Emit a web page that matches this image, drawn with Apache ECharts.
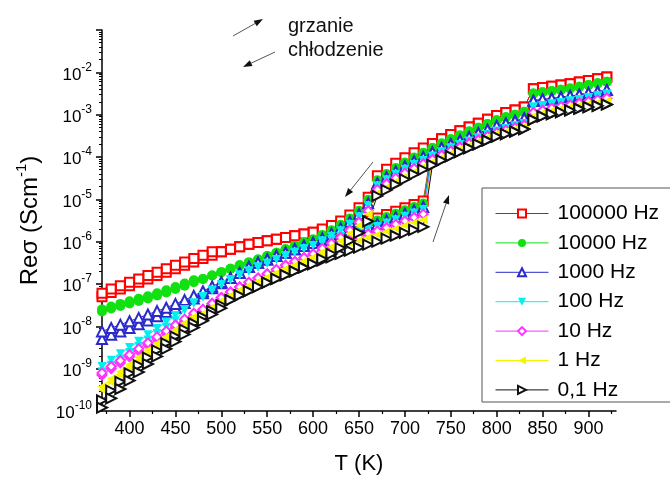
<!DOCTYPE html>
<html><head><meta charset="utf-8">
<script src="https://cdn.jsdelivr.net/npm/echarts@6/dist/echarts.min.js"></script>
<style>html,body{margin:0;padding:0;background:#fff}#c{width:670px;height:480px}</style>
</head><body><div id="c"></div><script>
// Temperature grid (K)
const T = [370,380,390,400,410,420,430,440,450,460,470,480,490,500,510,520,530,540,550,560,570,580,590,600,610,620,630,640,650,660,670,680,690,700,710,720,730,740,750,760,770,780,790,800,810,820,830,840,850,860,870,880,890,900,910,920];

// log10(Re sigma / S cm^-1); heating and cooling runs
const lg100kHeat = [-7.30,-7.20,-7.12,-7.04,-6.96,-6.88,-6.80,-6.72,-6.64,-6.56,-6.48,-6.40,-6.32,-6.24,-6.18,-6.12,-6.06,-6.02,-5.98,-5.94,-5.90,-5.86,-5.82,-5.78,-5.74,-5.70,-5.65,-5.60,-5.55,-5.50,-5.44,-5.36,-5.28,-5.20,-5.12,-5.04,-3.68,-3.57,-3.47,-3.38,-3.29,-3.20,-3.11,-3.02,-2.95,-2.89,-2.82,-2.39,-2.36,-2.33,-2.30,-2.27,-2.23,-2.19,-2.15,-2.11];
const lg100kCool = [-7.22,-7.12,-7.04,-6.96,-6.88,-6.80,-6.72,-6.64,-6.56,-6.48,-6.40,-6.32,-6.24,-6.24,-6.18,-6.12,-6.06,-6.02,-5.98,-5.94,-5.90,-5.86,-5.82,-5.78,-5.70,-5.62,-5.51,-5.37,-5.20,-4.95,-4.44,-4.29,-4.15,-4.02,-3.90,-3.79,-3.68,-3.57,-3.47,-3.38,-3.29,-3.20,-3.11,-3.02,-2.95,-2.89,-2.82,-2.39,-2.36,-2.33,-2.30,-2.27,-2.23,-2.19,-2.15,-2.11];

const lg10kHeat = [-7.65,-7.58,-7.52,-7.46,-7.40,-7.34,-7.27,-7.20,-7.12,-7.04,-6.96,-6.88,-6.80,-6.72,-6.64,-6.56,-6.49,-6.42,-6.34,-6.26,-6.18,-6.10,-6.02,-5.95,-5.88,-5.81,-5.74,-5.68,-5.62,-5.56,-5.50,-5.42,-5.34,-5.26,-5.18,-5.10,-3.79,-3.68,-3.58,-3.49,-3.40,-3.31,-3.22,-3.13,-3.06,-3.00,-2.93,-2.50,-2.47,-2.44,-2.41,-2.38,-2.34,-2.30,-2.26,-2.22];
const lg10kCool = [-7.60,-7.53,-7.47,-7.41,-7.35,-7.29,-7.22,-7.15,-7.07,-6.99,-6.91,-6.88,-6.80,-6.72,-6.64,-6.56,-6.49,-6.42,-6.34,-6.26,-6.18,-6.10,-6.02,-5.95,-5.84,-5.73,-5.60,-5.45,-5.27,-5.01,-4.55,-4.40,-4.26,-4.13,-4.01,-3.90,-3.79,-3.68,-3.58,-3.49,-3.40,-3.31,-3.22,-3.13,-3.06,-3.00,-2.93,-2.50,-2.47,-2.44,-2.41,-2.38,-2.34,-2.30,-2.26,-2.22];

const lg1kHeat = [-8.30,-8.20,-8.12,-8.04,-7.95,-7.86,-7.76,-7.66,-7.56,-7.45,-7.34,-7.22,-7.10,-6.98,-6.86,-6.74,-6.60,-6.50,-6.42,-6.34,-6.26,-6.18,-6.10,-6.03,-5.96,-5.89,-5.82,-5.76,-5.70,-5.64,-5.58,-5.50,-5.42,-5.34,-5.26,-5.18,-3.89,-3.79,-3.70,-3.61,-3.53,-3.44,-3.36,-3.27,-3.21,-3.15,-3.09,-2.67,-2.64,-2.62,-2.59,-2.56,-2.53,-2.49,-2.46,-2.42];
const lg1kCool = [-8.12,-8.04,-7.96,-7.88,-7.80,-7.72,-7.64,-7.56,-7.47,-7.38,-7.28,-7.17,-7.06,-6.95,-6.86,-6.74,-6.60,-6.50,-6.42,-6.34,-6.26,-6.18,-6.10,-6.03,-5.92,-5.81,-5.68,-5.53,-5.35,-5.09,-4.62,-4.48,-4.34,-4.22,-4.10,-4.00,-3.89,-3.79,-3.70,-3.61,-3.53,-3.44,-3.36,-3.27,-3.21,-3.15,-3.09,-2.67,-2.64,-2.62,-2.59,-2.56,-2.53,-2.49,-2.46,-2.42];

const lg100Heat = [-8.95,-8.80,-8.65,-8.50,-8.35,-8.20,-8.05,-7.90,-7.75,-7.60,-7.45,-7.30,-7.15,-7.02,-6.90,-6.79,-6.69,-6.60,-6.51,-6.42,-6.33,-6.25,-6.17,-6.09,-6.02,-5.95,-5.88,-5.82,-5.76,-5.70,-5.64,-5.56,-5.48,-5.40,-5.32,-5.24,-3.98,-3.88,-3.79,-3.71,-3.63,-3.55,-3.47,-3.39,-3.33,-3.27,-3.21,-2.82,-2.79,-2.75,-2.72,-2.68,-2.64,-2.60,-2.56,-2.52];
const lg100Cool = [-9.07,-8.92,-8.77,-8.62,-8.47,-8.32,-8.17,-8.02,-7.87,-7.60,-7.45,-7.30,-7.15,-7.02,-6.90,-6.79,-6.69,-6.60,-6.51,-6.42,-6.33,-6.25,-6.17,-6.09,-5.98,-5.87,-5.74,-5.59,-5.41,-5.15,-4.68,-4.54,-4.41,-4.29,-4.18,-4.08,-3.98,-3.88,-3.79,-3.71,-3.63,-3.55,-3.47,-3.39,-3.33,-3.27,-3.21,-2.82,-2.79,-2.75,-2.72,-2.68,-2.64,-2.60,-2.56,-2.52];

const lg10Heat = [-9.15,-9.00,-8.86,-8.72,-8.58,-8.44,-8.30,-8.16,-8.02,-7.88,-7.74,-7.60,-7.46,-7.32,-7.19,-7.07,-6.96,-6.86,-6.76,-6.66,-6.56,-6.47,-6.38,-6.29,-6.20,-6.12,-6.04,-5.96,-5.89,-5.82,-5.75,-5.67,-5.59,-5.51,-5.43,-5.35,-4.06,-3.96,-3.86,-3.77,-3.68,-3.60,-3.51,-3.43,-3.37,-3.31,-3.25,-2.95,-2.90,-2.85,-2.81,-2.77,-2.73,-2.69,-2.65,-2.61];
const lg10Cool = [-9.10,-8.95,-8.81,-8.67,-8.53,-8.39,-8.25,-8.11,-7.97,-7.83,-7.69,-7.60,-7.46,-7.32,-7.19,-7.07,-6.96,-6.86,-6.76,-6.66,-6.56,-6.47,-6.38,-6.29,-6.16,-6.04,-5.90,-5.73,-5.54,-5.27,-4.77,-4.63,-4.50,-4.38,-4.27,-4.16,-4.06,-3.96,-3.86,-3.77,-3.68,-3.60,-3.51,-3.43,-3.37,-3.31,-3.25,-2.95,-2.90,-2.85,-2.81,-2.77,-2.73,-2.69,-2.65,-2.61];

const lg1Heat = [-9.50,-9.32,-9.15,-8.98,-8.81,-8.64,-8.48,-8.32,-8.16,-8.00,-7.85,-7.70,-7.55,-7.40,-7.27,-7.15,-7.04,-6.94,-6.84,-6.74,-6.64,-6.55,-6.46,-6.37,-6.28,-6.20,-6.12,-6.04,-5.97,-5.90,-5.83,-5.76,-5.69,-5.62,-5.55,-5.48,-4.12,-4.01,-3.91,-3.81,-3.72,-3.63,-3.54,-3.45,-3.40,-3.34,-3.28,-3.04,-2.96,-2.91,-2.86,-2.82,-2.78,-2.74,-2.71,-2.68];
const lg1Cool = [-9.42,-9.24,-9.07,-8.90,-8.73,-8.56,-8.40,-8.24,-8.08,-7.92,-7.77,-7.70,-7.55,-7.40,-7.27,-7.15,-7.04,-6.94,-6.84,-6.74,-6.64,-6.55,-6.46,-6.37,-6.24,-6.12,-5.98,-5.81,-5.62,-5.35,-4.85,-4.71,-4.58,-4.46,-4.34,-4.23,-4.12,-4.01,-3.91,-3.81,-3.72,-3.63,-3.54,-3.45,-3.40,-3.34,-3.28,-3.04,-2.96,-2.91,-2.86,-2.82,-2.78,-2.74,-2.71,-2.68];

const lg01Heat = [-9.75,-9.52,-9.31,-9.11,-8.92,-8.74,-8.57,-8.40,-8.24,-8.08,-7.93,-7.78,-7.64,-7.50,-7.38,-7.27,-7.17,-7.07,-6.97,-6.88,-6.79,-6.70,-6.61,-6.53,-6.45,-6.37,-6.29,-6.21,-6.14,-6.07,-6.00,-5.93,-5.86,-5.79,-5.72,-5.65,-4.19,-4.08,-3.98,-3.88,-3.79,-3.70,-3.61,-3.52,-3.46,-3.40,-3.34,-3.12,-3.04,-2.99,-2.94,-2.90,-2.86,-2.82,-2.79,-2.76];
const lg01Cool = [-9.92,-9.70,-9.48,-9.28,-9.08,-8.89,-8.71,-8.53,-8.36,-8.19,-8.03,-7.87,-7.72,-7.57,-7.38,-7.27,-7.17,-7.07,-6.97,-6.88,-6.79,-6.70,-6.61,-6.53,-6.41,-6.29,-6.15,-5.98,-5.79,-5.52,-4.92,-4.78,-4.65,-4.53,-4.41,-4.30,-4.19,-4.08,-3.98,-3.88,-3.79,-3.70,-3.61,-3.52,-3.46,-3.40,-3.34,-3.12,-3.04,-2.99,-2.94,-2.90,-2.86,-2.82,-2.79,-2.76];

const seriesNames = ['100000 Hz','10000 Hz','1000 Hz','100 Hz','10 Hz','1 Hz','0,1 Hz'];
const xTickValues = [400,450,500,550,600,650,700,750,800,850,900];
const xMinorValues = [375,425,475,525,575,625,675,725,775,825,875,925];
const yTickExponents = [-10,-9,-8,-7,-6,-5,-4,-3,-2,-1];
const yLabelExponents = [-10,-9,-8,-7,-6,-5,-4,-3,-2];

const FONT = '"Liberation Sans", Arial, sans-serif';

function run(heat, cool) {
  const h = T.map((t, i) => [t, Math.pow(10, heat[i])]);
  const c = T.map((t, i) => [t, Math.pow(10, cool[i])]).reverse();
  return h.concat(c);
}

const styles = [
  {symbol:'emptyRect', size:9, color:'#ff0000', rot:0},
  {symbol:'circle', size:10, color:'#11e011', rot:0},
  {symbol:'emptyTriangle', size:10, color:'#2a2acc', rot:0},
  {symbol:'triangle', size:9, color:'#00f0f0', rot:180},
  {symbol:'emptyDiamond', size:9, color:'#ff33ff', rot:0},
  {symbol:'triangle', size:9, color:'#f5f500', rot:90},
  {symbol:'emptyTriangle', size:10, color:'#111111', rot:-90}
];
const runs = [
  run(lg100kHeat, lg100kCool), run(lg10kHeat, lg10kCool), run(lg1kHeat, lg1kCool),
  run(lg100Heat, lg100Cool), run(lg10Heat, lg10Cool), run(lg1Heat, lg1Cool), run(lg01Heat, lg01Cool)
];

const series = seriesNames.map((name, k) => ({
  name, type:'line', data: runs[k],
  symbol: styles[k].symbol, symbolSize: styles[k].size, symbolRotate: styles[k].rot,
  color: styles[k].color,
  lineStyle: {width: 1, color: styles[k].color},
  itemStyle: {borderWidth: 1},
  emphasis: {disabled: true},
  animation: false
}));

const yMinor = [];
for (let e = -10; e <= -2; e++) for (let m = 2; m <= 9; m++) yMinor.push(m * Math.pow(10, e));

function arrow(x1, y1, x2, y2) {
  const dx = x2 - x1, dy = y2 - y1, L = Math.hypot(dx, dy), ux = dx / L, uy = dy / L, hl = 9, hw = 3.2;
  const bx = x2 - ux * hl, by = y2 - uy * hl;
  return [
    {type:'line', shape:{x1, y1, x2:bx, y2:by}, style:{stroke:'#555', lineWidth:1}},
    {type:'polygon', shape:{points:[[x2, y2], [bx - uy * hw, by + ux * hw], [bx + uy * hw, by - ux * hw]]}, style:{fill:'#111'}}
  ];
}

const chart = echarts.init(document.getElementById('c'), null, {renderer:'canvas'});
chart.setOption({
  animation: false,
  backgroundColor: '#fff',
  textStyle: {fontFamily: FONT},
  grid: {left: 102, right: 54, top: 30, bottom: 67, containLabel: false},
  legend: {
    orient: 'vertical', left: 482, top: 188,
    itemWidth: 53, itemHeight: 10, itemGap: 8.4,
    padding: [15, 10, 10, 13],
    borderWidth: 0,
    lineStyle: {width: 1},
    textStyle: {fontSize: 21, color: '#000', fontFamily: FONT, padding: [0, 0, 0, 4], lineHeight: 21},
    data: seriesNames
  },
  xAxis: [{
    type: 'value', min: 370, max: 930,
    axisLine: {lineStyle: {color: '#000', width: 1.5}},
    axisTick: {customValues: xTickValues, length: 6, lineStyle: {color: '#000', width: 1.5}},
    axisLabel: {customValues: xTickValues, fontSize: 18, color: '#000', margin: 9, fontFamily: FONT},
    splitLine: {show: false},
    name: 'T (K)', nameLocation: 'middle', nameGap: 42,
    nameTextStyle: {fontSize: 22, color: '#000', fontFamily: FONT}
  }, {
    type: 'value', min: 370, max: 930, position: 'bottom',
    axisLine: {show: false},
    axisTick: {customValues: xMinorValues, length: 3, lineStyle: {color: '#000', width: 1.2}},
    axisLabel: {show: false}, splitLine: {show: false}
  }],
  yAxis: [{
    type: 'log', logBase: 10, min: 1e-10, max: 1e-1,
    axisLine: {show: true, lineStyle: {color: '#000', width: 1.5}},
    axisTick: {show: true, customValues: yTickExponents.map(e => Math.pow(10, e)), length: 6, lineStyle: {color: '#000', width: 1.5}},
    axisLabel: {
      customValues: yLabelExponents.map(e => Math.pow(10, e)), margin: 10, color: '#000',
      formatter: v => '{b|10}{s|' + Math.round(Math.log10(v)) + '}',
      rich: {
        b: {fontSize: 17, fontFamily: FONT, color: '#000', lineHeight: 22, verticalAlign: 'bottom'},
        s: {fontSize: 12, fontFamily: FONT, color: '#000', lineHeight: 22, verticalAlign: 'top', padding: [0, 0, 8, 0]}
      }
    },
    splitLine: {show: false},
    name: '{n|Reσ (Scm}{s|-1}{n|)}', nameLocation: 'middle', nameGap: 60, nameRotate: 90,
    nameTextStyle: {
      rich: {
        n: {fontSize: 24, fontFamily: FONT, color: '#000', lineHeight: 28, verticalAlign: 'bottom'},
        s: {fontSize: 15, fontFamily: FONT, color: '#000', lineHeight: 28, verticalAlign: 'top'}
      }
    }
  }, {
    type: 'log', logBase: 10, min: 1e-10, max: 1e-1, position: 'left',
    axisLine: {show: false},
    axisTick: {show: true, customValues: yMinor, length: 3, lineStyle: {color: '#000', width: 1}},
    axisLabel: {show: false}, splitLine: {show: false}
  }],
  series,
  graphic: [
    ...arrow(233, 36, 263, 19),
    ...arrow(275, 52, 243, 67),
    ...arrow(373, 162, 345, 197),
    ...arrow(433, 242, 449, 195),
    {type:'rect', shape:{x: 482, y: 188, width: 300, height: 214}, style:{fill: 'none', stroke: '#555', lineWidth: 1}, z: 5},
    {type:'text', style:{x: 288, y: 26, text: 'grzanie', font: '20px ' + FONT, fill: '#111', verticalAlign: 'middle'}},
    {type:'text', style:{x: 288, y: 50, text: 'chłodzenie', font: '20px ' + FONT, fill: '#111', verticalAlign: 'middle'}}
  ]
});
</script></body></html>
